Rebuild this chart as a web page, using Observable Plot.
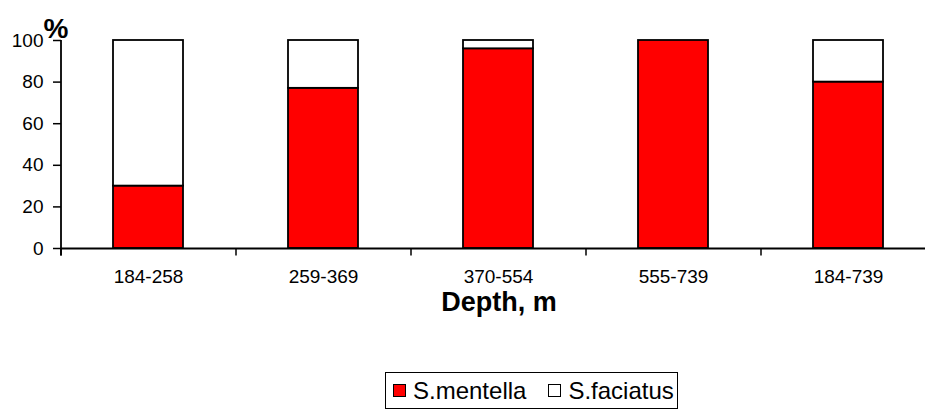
<!DOCTYPE html>
<html>
<head>
<meta charset="utf-8">
<script src="https://cdn.jsdelivr.net/npm/d3@7"></script>
<script src="https://cdn.jsdelivr.net/npm/@observablehq/plot@0.6"></script>
<style>
  body { margin: 0; background: #fff; font-family: "Liberation Sans", Arial, sans-serif; }
  #wrap { position: relative; width: 925px; height: 411px; }
  #legend {
    position: absolute; left: 385px; top: 372px; width: 293px; height: 37px;
    border: 1px solid #000; box-sizing: border-box;
    display: flex; align-items: center; font-size: 24px; color: #000;
    padding-left: 7px; white-space: nowrap; overflow: hidden;
  }
  .sw { display: inline-block; width: 11px; height: 11px; border: 1.5px solid #000; margin-right: 7px; flex: none; }
</style>
</head>
<body>
<div id="wrap"></div>
<script>
const categories = ["184-258", "259-369", "370-554", "555-739", "184-739"];
const species = ["S.mentella", "S.faciatus"];
const mentella = [30, 77, 96, 100, 80];
const faciatus = [70, 23, 4, 0, 20];
const colors = ["#ff0000", "#ffffff"];
const yTicks = [0, 20, 40, 60, 80, 100];

const rows = [];
categories.forEach((c, i) => {
  rows.push({cat: c, species: species[0], value: mentella[i]});
  rows.push({cat: c, species: species[1], value: faciatus[i]});
});

const W = 925, H = 340, mL = 61, mR = -11;
const half = (W - mL - mR) / categories.length / 2;

const chart = Plot.plot({
  width: W, height: H,
  marginLeft: mL, marginRight: mR, marginTop: 40, marginBottom: 92,
  style: {fontFamily: "Liberation Sans, Arial, sans-serif", color: "#000", background: "#fff"},
  x: {type: "band", domain: categories, paddingInner: 0.6, paddingOuter: 0.3, align: 0.5},
  y: {domain: [0, 100]},
  color: {domain: species, range: colors},
  marks: [
    Plot.barY(rows, {x: "cat", y: "value", fill: "species", stroke: "#000", strokeWidth: 1.8}),
    Plot.ruleY([0], {stroke: "#000", strokeWidth: 1.8}),
    Plot.ruleX(categories, {x: d => d, dx: -half, y1: 0, y2: -3.6, stroke: "#000", strokeWidth: 1.5}),
    Plot.ruleX([categories[0]], {x: d => d, dx: -half, y1: -3.6, y2: 100, stroke: "#000", strokeWidth: 1.8}),
    Plot.axisY({ticks: yTicks, tickSize: 8, tickPadding: 10, fontSize: 19, label: null, tickFormat: d => d, stroke: "#000", strokeWidth: 1.5}),
    Plot.axisX({tickSize: 0, tickPadding: 21, fontSize: 19, label: null}),
    Plot.text(["Depth, m"], {frameAnchor: "bottom", dy: 62, fontSize: 27, fontWeight: "bold", fill: "#000"}),
    Plot.text(["%"], {frameAnchor: "top-left", dx: -18, dy: -22, fontSize: 28, fontWeight: "bold", fill: "#000"})
  ]
});

const wrap = document.getElementById("wrap");
wrap.appendChild(chart);
const legend = document.createElement("div");
legend.id = "legend";
legend.innerHTML = species.map((s, i) =>
  `<span class="sw" style="background:${colors[i]}"></span><span style="margin-right:${i === 0 ? 22 : 0}px">${s}</span>`).join("");
wrap.appendChild(legend);
</script>
</body>
</html>
